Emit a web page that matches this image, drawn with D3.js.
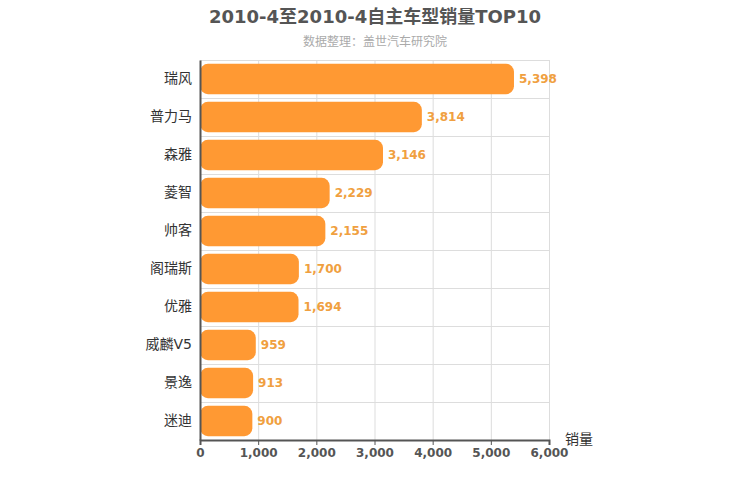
<!DOCTYPE html>
<html>
<head>
<meta charset="utf-8">
<script src="https://cdn.jsdelivr.net/npm/d3@7"></script>
<style>
body { margin: 0; background: #fff; }
text { font-family: "DejaVu Sans", "Noto Sans CJK SC", sans-serif; }
</style>
</head>
<body>
<div id="chart"></div>
<script>
var categories = ["瑞风", "普力马", "森雅", "菱智", "帅客", "阁瑞斯", "优雅", "威麟V5", "景逸", "迷迪"];
var sales = [5398, 3814, 3146, 2229, 2155, 1700, 1694, 959, 913, 900];
var xTicks = [0, 1000, 2000, 3000, 4000, 5000, 6000];

(function () {
    var width = 750, height = 500;
    var mLeft = 200, mRight = 549, mTop = 60, mBottom = 440;

    var svg = d3.select("#chart").append("svg")
        .attr("width", width)
        .attr("height", height);

    var x = d3.scaleLinear().domain([0, 6000]).range([mLeft, mRight]);
    var y = d3.scaleBand().domain(categories).range([mTop, mBottom]).paddingInner(0.2).paddingOuter(0.1);
    var band = d3.scaleBand().domain(categories).range([mTop, mBottom]);

    // grid
    svg.selectAll(".vgrid").data(xTicks).enter().append("line")
        .attr("x1", function (d) { return x(d) + 0.5 }).attr("x2", function (d) { return x(d) + 0.5 })
        .attr("y1", mTop).attr("y2", mBottom)
        .attr("stroke", "#ddd");
    svg.selectAll(".hgrid").data(categories).enter().append("line")
        .attr("x1", mLeft).attr("x2", mRight)
        .attr("y1", function (d) { return band(d) + 0.5 }).attr("y2", function (d) { return band(d) + 0.5 })
        .attr("stroke", "#ddd");

    // bars
    svg.selectAll(".bar").data(sales).enter().append("rect")
        .attr("x", mLeft)
        .attr("y", function (d, i) { return y(categories[i]) })
        .attr("width", function (d) { return x(d) - mLeft })
        .attr("height", y.bandwidth())
        .attr("rx", 8)
        .attr("fill", "#ff9933");

    svg.selectAll(".val").data(sales).enter().append("text")
        .attr("x", function (d) { return x(d) + 5 })
        .attr("y", function (d, i) { return y(categories[i]) + y.bandwidth() / 2 + 4 })
        .attr("font-size", 12).attr("font-weight", "bold")
        .attr("fill", "#f0a040")
        .text(function (d) { return d3.format(",")(d) });

    // axes
    var xAxis = svg.append("g").attr("transform", "translate(0," + mBottom + ")")
        .call(d3.axisBottom(x).tickValues(xTicks).tickFormat(d3.format(",")).tickSize(5));
    xAxis.selectAll("text").attr("font-size", 12).attr("font-weight", "bold").attr("fill", "#555");
    xAxis.selectAll("line,path").attr("stroke", "#555");
    xAxis.select("path").attr("stroke-width", 2);

    var yAxis = svg.append("g").attr("transform", "translate(" + mLeft + ",0)")
        .call(d3.axisLeft(band).tickSize(0).tickPadding(8));
    yAxis.selectAll("text").attr("font-size", 14).attr("fill", "#333");
    yAxis.select("path").attr("stroke", "#555").attr("stroke-width", 2);

    svg.append("text").attr("x", 565).attr("y", 444)
        .attr("font-size", 14).attr("fill", "#333").text("销量");

    svg.append("text").attr("x", 375).attr("y", 23).attr("text-anchor", "middle")
        .attr("font-size", 18).attr("font-weight", "bold").attr("fill", "#555")
        .text("2010-4至2010-4自主车型销量TOP10");
    svg.append("text").attr("x", 375).attr("y", 46).attr("text-anchor", "middle")
        .attr("font-size", 12).attr("fill", "#aaa")
        .text("数据整理：盖世汽车研究院");
})();
</script>
</body>
</html>
